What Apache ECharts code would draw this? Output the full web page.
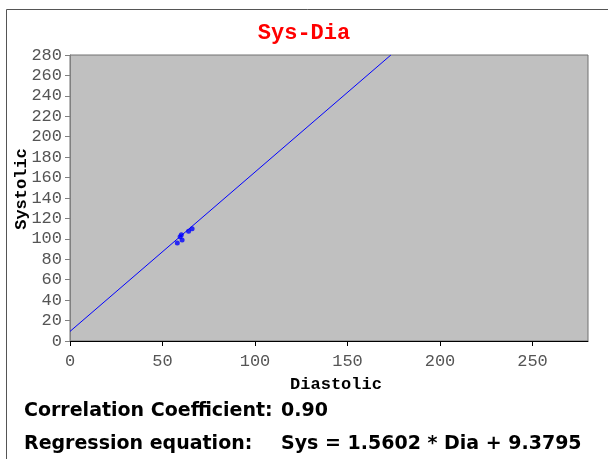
<!DOCTYPE html>
<html>
<head>
<meta charset="utf-8">
<script src="https://cdn.jsdelivr.net/npm/echarts@6/dist/echarts.min.js"></script>
<style>
  html, body { margin: 0; padding: 0; background: #fff; }
  #chart { width: 608px; height: 459px; }
</style>
</head>
<body>
<div id="chart"></div>
<script>
// measured pairs (diastolic, systolic)
const diastolic = [58, 59.5, 60.2, 60.6, 64.1, 66];
const systolic = [96, 102, 104, 99, 107.5, 110];

// regression line shown in the footer
const slope = 1.5602;
const intercept = 9.3795;
const correlation = "0.90";

const xTicks = [0, 50, 100, 150, 200, 250];
const axisMax = 280;

const points = diastolic.map((d, i) => [d, systolic[i]]);
// line drawn from the equation, clipped to the plot
const fitLine = [[0, intercept], [(axisMax - intercept) / slope, axisMax]];

const chart = echarts.init(document.getElementById("chart"));

const monoFont = "'Liberation Mono', 'DejaVu Sans Mono', monospace";
const footFont = "bold 19px 'DejaVu Sans', Verdana, sans-serif";

chart.setOption({
  backgroundColor: "#fff",
  animation: false,
  title: {
    text: "Sys-Dia",
    left: 299,
    textAlign: "center",
    top: 17,
    textStyle: { color: "#ff0000", fontFamily: monoFont, fontWeight: "bold", fontSize: 22 }
  },
  grid: {
    left: 70, top: 55, right: 20, bottom: 118,
    containLabel: false,
    outerBoundsMode: "none",
    show: true,
    backgroundColor: "#c0c0c0",
    borderColor: "#707070",
    borderWidth: 1
  },
  xAxis: {
    type: "value",
    min: 0,
    max: axisMax,
    interval: 50,
    name: "Diastolic",
    nameLocation: "middle",
    nameGap: 35,
    nameTextStyle: { color: "#000", fontFamily: monoFont, fontWeight: "bold", fontSize: 17, padding: [0, 0, 0, 14] },
    axisLine: { lineStyle: { color: "#000" } },
    axisTick: { show: true, length: 5, lineStyle: { color: "#000" } },
    splitLine: { show: false },
    axisLabel: {
      color: "#555", fontFamily: monoFont, fontSize: 17, margin: 12,
      showMaxLabel: false,
      formatter: v => (xTicks.includes(v) ? String(v) : "")
    }
  },
  yAxis: {
    type: "value",
    min: 0,
    max: axisMax,
    interval: 20,
    name: "Systolic",
    nameLocation: "middle",
    nameRotate: 90,
    nameGap: 40,
    nameMoveOverlap: false,
    nameTextStyle: { color: "#000", fontFamily: monoFont, fontWeight: "bold", fontSize: 17, padding: [0, 0, 0, 18] },
    axisLine: { show: true, lineStyle: { color: "#808080" } },
    axisTick: { show: true, length: 5, lineStyle: { color: "#808080" } },
    splitLine: { show: false },
    axisLabel: { color: "#555", fontFamily: monoFont, fontSize: 17, margin: 8 }
  },
  series: [
    {
      type: "line",
      data: fitLine,
      symbol: "none",
      lineStyle: { color: "#0000ff", width: 1 },
      silent: true,
      z: 2
    },
    {
      type: "scatter",
      data: points,
      symbol: "circle",
      symbolSize: 5,
      itemStyle: { color: "#0000ff" },
      z: 3
    }
  ],
  graphic: [
    {
      type: "rect",
      shape: { x: 6.5, y: 9.5, width: 640, height: 500 },
      style: { fill: "none", stroke: "#555", lineWidth: 1 },
      silent: true
    },
    {
      type: "text", left: 24, top: 402,
      style: { text: "Correlation Coefficient:", font: footFont, fill: "#000" }
    },
    {
      type: "text", left: 281, top: 402,
      style: { text: correlation, font: footFont, fill: "#000" }
    },
    {
      type: "text", left: 24, top: 435,
      style: { text: "Regression equation:", font: footFont, fill: "#000" }
    },
    {
      type: "text", left: 281, top: 435,
      style: {
        text: "Sys = " + slope.toFixed(4) + " * Dia + " + intercept.toFixed(4),
        font: footFont, fill: "#000"
      }
    }
  ]
});
</script>
</body>
</html>
